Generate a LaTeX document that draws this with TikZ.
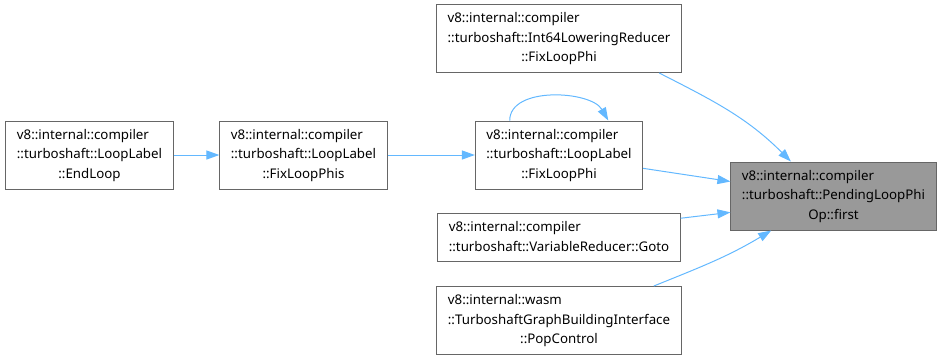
\documentclass[tikz,border=0pt]{standalone}
\usepackage{fontspec}
\setmainfont{Noto Sans}
\usetikzlibrary{arrows.meta, positioning}
\definecolor{edgeblue}{HTML}{63B8FF}
\definecolor{boxgrey}{HTML}{666666}
\definecolor{focusgrey}{HTML}{999999}
% label rows: all left, the last one may be centred
\newcommand{\fnlabel}[1]{\begin{tabular}{@{}l@{}}#1\end{tabular}}
\newcommand{\lastrow}[1]{\multicolumn{1}{@{}c@{}}{#1}}

\begin{document}
\begin{tikzpicture}[x=1pt,y=1pt,>={Triangle[length=13pt,width=9pt]},node distance=3cm,on grid,
fn/.style={rectangle, draw=boxgrey, line width=1pt, fill=white, inner xsep=11pt, inner ysep=4.75pt,
font=\fontsize{13.3}{19.5}\selectfont},
focus/.style={fn, fill=focusgrey}]

    \useasboundingbox (0,0) rectangle (941,-360);

    \node[fn] (EndLoop) at (89.5,-155) {\fnlabel{v8::internal::compiler\\::turboshaft::LoopLabel\\\lastrow{::EndLoop}}};
    \node[fn] (FixLoopPhis) [right =214pt of EndLoop] {\fnlabel{v8::internal::compiler\\::turboshaft::LoopLabel\\\lastrow{::FixLoopPhis}}};
    \node[fn] (LoopFix) [right =255.5pt of FixLoopPhis] {\fnlabel{v8::internal::compiler\\::turboshaft::LoopLabel\\\lastrow{::FixLoopPhi}}};

    \node[fn] (Int64) [above =116.5pt of LoopFix] {\fnlabel{v8::internal::compiler\\::turboshaft::Int64LoweringReducer\\\lastrow{::FixLoopPhi}}};
    \node[fn] (Goto) [below =82.5pt of LoopFix] {\fnlabel{v8::internal::compiler\\::turboshaft::VariableReducer::Goto}};
    \node[fn] (PopControl) [below =83pt of Goto] {\fnlabel{v8::internal::wasm\\::TurboshaftGraphBuildingInterface\\\lastrow{::PopControl}}};

    \node[focus] (Pending) [below right =41pt and 274.5pt of LoopFix] {\fnlabel{v8::internal::compiler\\::turboshaft::PendingLoopPhi\\\lastrow{Op::first}}};

    \tikzset{call/.style={->, draw=edgeblue, line width=1pt}}
    \path (EndLoop) edge [call] (FixLoopPhis);
    \path (FixLoopPhis) edge [call] (LoopFix);
    \path (LoopFix.145) edge [call, out=90, in=120, looseness=0.9] (LoopFix.35);
    \path (Int64.-19) edge [call, out=-27, in=135] (Pending.141);
    \path (LoopFix.-9) edge [call] (Pending.172);
    \path (Goto.9) edge [call] (Pending.-171);
    \path (PopControl.20) edge [call, out=22, in=-149] (Pending.-151);

\end{tikzpicture}
\end{document}
